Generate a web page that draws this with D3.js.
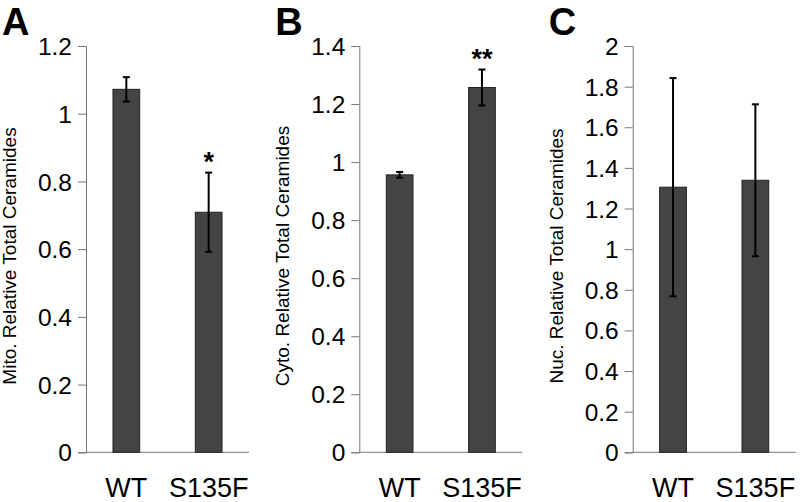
<!DOCTYPE html>
<html>
<head>
<meta charset="utf-8">
<script src="https://cdn.jsdelivr.net/npm/d3@7"></script>
<style>
  html, body { margin: 0; padding: 0; background: #fff; }
  svg { display: block; }
  text { font-family: "Liberation Sans", Arial, Helvetica, sans-serif; fill: #000; }
</style>
</head>
<body>
<svg id="chart" width="800" height="502"></svg>
<script>
// ---- data ----
const categories = ["WT", "S135F"];
const panelLetters = ["A", "B", "C"];
const yTitles = ["Mito. Relative Total Ceramides", "Cyto. Relative Total Ceramides", "Nuc. Relative Total Ceramides"];
const mitoValues = [1.072, 0.709];
const mitoErrors = [0.036, 0.117];
const cytoValues = [0.956, 1.257];
const cytoErrors = [0.010, 0.062];
const nucValues = [1.305, 1.339];
const nucErrors = [0.537, 0.374];
const mitoTicks = [0, 0.2, 0.4, 0.6, 0.8, 1, 1.2];
const cytoTicks = [0, 0.2, 0.4, 0.6, 0.8, 1, 1.2, 1.4];
const nucTicks = [0, 0.2, 0.4, 0.6, 0.8, 1, 1.2, 1.4, 1.6, 1.8, 2];
const mitoStars = ["", "*"];
const cytoStars = ["", "**"];
const nucStars = ["", ""];

const panels = [
  { values: mitoValues, errors: mitoErrors, ticks: mitoTicks, stars: mitoStars, max: 1.2 },
  { values: cytoValues, errors: cytoErrors, ticks: cytoTicks, stars: cytoStars, max: 1.4 },
  { values: nucValues, errors: nucErrors, ticks: nucTicks, stars: nucStars, max: 2 }
];

// ---- layout ----
const svg = d3.select("#chart");
const axisXs = [86, 359.3, 632.7];
const plotW = 163;
const yBottom = 452.3, yTop = 46;
const barW = 26.7;

panels.forEach((p, i) => {
  const x0 = axisXs[i];
  const g = svg.append("g").attr("transform", `translate(${x0},0)`);

  const x = d3.scalePoint().domain(categories).range([0, plotW]).padding(0.49);
  const y = d3.scaleLinear().domain([0, p.max]).range([yBottom, yTop]);

  // y axis
  const yAxis = d3.axisLeft(y).tickValues(p.ticks).tickSize(8).tickPadding(6)
    .tickFormat(d => d3.format("")(+d.toFixed(1)));
  const ya = g.append("g").call(yAxis);
  ya.select(".domain").attr("stroke", "#777").attr("stroke-width", 1);
  ya.selectAll(".tick line").attr("stroke", "#777");
  ya.selectAll(".tick text")
    .style("font-family", '"Liberation Sans", Arial, sans-serif')
    .style("font-size", "24.5px").attr("fill", "#000").attr("dy", "0.35em");

  // x baseline
  g.append("line").attr("x1", 0).attr("x2", plotW)
    .attr("y1", y(0)).attr("y2", y(0)).attr("stroke", "#777").attr("stroke-width", 1);

  // bars
  g.selectAll("rect.bar").data(categories).enter().append("rect")
    .attr("class", "bar")
    .attr("x", d => x(d) - barW / 2)
    .attr("width", barW)
    .attr("y", (d, j) => y(p.values[j]))
    .attr("height", (d, j) => y(0) - y(p.values[j]))
    .attr("fill", "#444")
    .attr("stroke", "#222")
    .attr("stroke-width", 1);

  // error bars
  const eb = g.selectAll("g.err").data(categories).enter().append("g").attr("class", "err");
  eb.append("line")
    .attr("x1", d => x(d)).attr("x2", d => x(d))
    .attr("y1", (d, j) => y(p.values[j] + p.errors[j]))
    .attr("y2", (d, j) => y(p.values[j] - p.errors[j]))
    .attr("stroke", "#000").attr("stroke-width", 2);
  [1, -1].forEach(s => {
    eb.append("line")
      .attr("x1", d => x(d) - 3.5).attr("x2", d => x(d) + 3.5)
      .attr("y1", (d, j) => y(p.values[j] + s * p.errors[j]))
      .attr("y2", (d, j) => y(p.values[j] + s * p.errors[j]))
      .attr("stroke", "#000").attr("stroke-width", 2);
  });

  // significance stars
  g.selectAll("text.star").data(categories).enter().append("text")
    .attr("class", "star")
    .attr("x", d => x(d))
    .attr("y", (d, j) => y(p.values[j] + p.errors[j]) - 2)
    .attr("text-anchor", "middle")
    .style("font-size", "27px").style("font-weight", "bold")
    .text((d, j) => p.stars[j]);

  // category labels
  g.selectAll("text.cat").data(categories).enter().append("text")
    .attr("class", "cat")
    .attr("x", d => x(d))
    .attr("y", 497)
    .attr("text-anchor", "middle")
    .style("font-size", "27px")
    .text(d => d);

  // y title
  g.append("text")
    .attr("transform", `translate(${-70},${256}) rotate(-90)`)
    .attr("text-anchor", "middle")
    .style("font-size", "19px")
    .text(yTitles[i]);

  // panel letter
  g.append("text")
    .attr("x", -84)
    .attr("y", 34.5)
    .style("font-size", "38px").style("font-weight", "bold")
    .text(panelLetters[i]);
});
</script>
</body>
</html>
